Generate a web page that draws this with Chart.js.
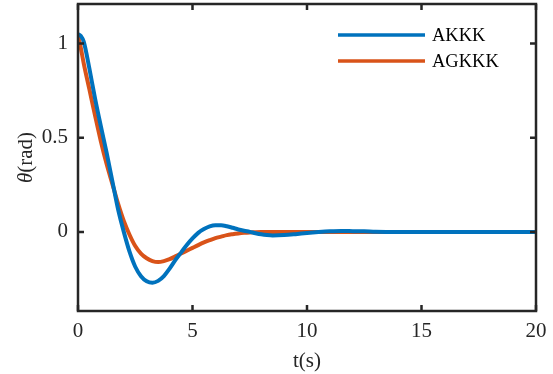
<!DOCTYPE html>
<html>
<head>
<meta charset="utf-8">
<script src="https://cdn.jsdelivr.net/npm/chart.js@4.4.1/dist/chart.umd.min.js"></script>
<style>
  html, body { margin: 0; padding: 0; background: #ffffff; }
  #wrap { width: 553px; height: 374px; position: relative; }
</style>
</head>
<body>
<div id="wrap"><canvas id="c"></canvas></div>
<script>
// Time samples (s)
const times = [0, 0.125, 0.25, 0.5, 0.75, 1.0, 1.25, 1.5, 1.75, 2.0, 2.25, 2.5, 2.75, 3.0, 3.25, 3.5, 3.75,
  4.0, 4.25, 4.5, 4.75, 5.0, 5.25, 5.5, 5.75, 6.0, 6.25, 6.5, 6.75, 7.0, 7.25, 7.5, 7.75,
  8.0, 8.25, 8.5, 9.0, 9.5, 10, 10.5, 11, 11.5, 12, 12.5, 13, 14, 15, 16, 17, 18, 19, 20];

// θ (rad) – AKKK
const akkk = [1.05, 1.04, 1.01, 0.865, 0.705, 0.56, 0.42, 0.27, 0.12, 0.0, -0.105, -0.185, -0.235, -0.262, -0.27, -0.26, -0.235,
  -0.195, -0.15, -0.11, -0.07, -0.035, -0.005, 0.015, 0.029, 0.035, 0.035, 0.03, 0.022, 0.013, 0.006, 0.0, -0.007,
  -0.013, -0.017, -0.019, -0.017, -0.012, -0.006, -0.001, 0.003, 0.005, 0.004, 0.003, 0.001, 0, 0, 0, 0, 0, 0, 0];

// θ (rad) – AGKKK
const agkkk = [1.05, 0.975, 0.895, 0.755, 0.615, 0.48, 0.36, 0.255, 0.15, 0.058, -0.015, -0.075, -0.115, -0.14, -0.155, -0.16, -0.155,
  -0.145, -0.13, -0.115, -0.10, -0.085, -0.07, -0.056, -0.044, -0.033, -0.025, -0.017, -0.012, -0.008, -0.005, -0.003, -0.002,
  -0.001, 0, 0, 0, 0, 0, 0, 0, 0, 0, 0, 0, 0, 0, 0, 0, 0, 0, 0];

const seriesNames = ['AKKK', 'AGKKK'];
const xTicks = [0, 5, 10, 15, 20];
const yTicks = [0, 0.5, 1];

const FONT = '"Liberation Serif", "Times New Roman", serif';
const INK = '#262626';
const colors = ['#0072BD', '#D95319'];

const toPts = (vals) => times.map((t, i) => ({ x: t, y: vals[i] }));

const boxPlugin = {
  id: 'box',
  afterDatasetsDraw(chart) {
    const { ctx, chartArea: a, scales: { x, y } } = chart;
    ctx.save();
    ctx.strokeStyle = INK;
    ctx.lineWidth = 2.5;
    ctx.strokeRect(a.left, a.top, a.right - a.left, a.bottom - a.top);
    const L = 6;
    x.ticks.forEach(tk => {
      const px = x.getPixelForValue(tk.value);
      ctx.beginPath();
      ctx.moveTo(px, a.bottom); ctx.lineTo(px, a.bottom - L);
      ctx.moveTo(px, a.top); ctx.lineTo(px, a.top + L);
      ctx.stroke();
    });
    y.ticks.forEach(tk => {
      const py = y.getPixelForValue(tk.value);
      ctx.beginPath();
      ctx.moveTo(a.left, py); ctx.lineTo(a.left + L, py);
      ctx.moveTo(a.right, py); ctx.lineTo(a.right - L, py);
      ctx.stroke();
    });
    // y-axis title with italic theta
    ctx.save();
    ctx.translate(26, (a.top + a.bottom) / 2);
    ctx.rotate(-Math.PI / 2);
    ctx.fillStyle = INK;
    ctx.textBaseline = 'middle';
    ctx.textAlign = 'left';
    const f1 = 'italic 21px ' + FONT, f2 = '21px ' + FONT;
    ctx.font = f1; const w1 = ctx.measureText('θ').width;
    ctx.font = f2; const w2 = ctx.measureText('(rad)').width;
    const start = -(w1 + w2) / 2;
    ctx.font = f1; ctx.fillText('θ', start, 0);
    ctx.font = f2; ctx.fillText('(rad)', start + w1, 0);
    ctx.restore();
    // legend
    chart.data.datasets.forEach((ds, i) => {
      const ly = a.top + 31 + i * 26;
      ctx.strokeStyle = ds.borderColor;
      ctx.lineWidth = 3.5;
      ctx.beginPath();
      ctx.moveTo(a.right - 198, ly); ctx.lineTo(a.right - 111, ly);
      ctx.stroke();
      ctx.fillStyle = '#000';
      ctx.font = '18.5px ' + FONT;
      ctx.textBaseline = 'middle';
      ctx.textAlign = 'left';
      ctx.fillText(ds.label, a.right - 104, ly + 1);
    });
    ctx.restore();
  }
};

new Chart(document.getElementById('c'), {
  type: 'line',
  data: {
    datasets: [
      { label: seriesNames[0], data: toPts(akkk), borderColor: colors[0], borderWidth: 4, pointRadius: 0, cubicInterpolationMode: 'monotone', fill: false },
      { label: seriesNames[1], data: toPts(agkkk), borderColor: colors[1], borderWidth: 4, pointRadius: 0, cubicInterpolationMode: 'monotone', fill: false }
    ]
  },
  options: {
    responsive: true,
    maintainAspectRatio: false,
    animation: false,
    layout: { padding: { left: 0, top: 4, right: 17, bottom: 0 } },
    plugins: { legend: { display: false }, tooltip: { enabled: false } },
    scales: {
      x: {
        type: 'linear', min: 0, max: 20,
        afterBuildTicks: (s) => { s.ticks = xTicks.map(v => ({ value: v })); },
        afterFit: (s) => { s.height = 63; s.paddingLeft = 0; s.paddingRight = 0; },
        grid: { display: false, drawTicks: false },
        border: { display: false },
        ticks: { padding: 8, color: INK, font: { family: FONT, size: 21 }, maxRotation: 0, callback: v => String(v) },
        title: { display: true, text: 't(s)', color: INK, font: { family: FONT, size: 21 }, padding: { top: 2, bottom: 0 } }
      },
      y: {
        type: 'linear', min: -0.42, max: 1.21,
        afterBuildTicks: (s) => { s.ticks = yTicks.map(v => ({ value: v })); },
        afterFit: (s) => { s.width = 78; s.paddingTop = 0; s.paddingBottom = 0; },
        grid: { display: false, drawTicks: false },
        border: { display: false },
        ticks: { padding: 10, color: INK, font: { family: FONT, size: 21 }, callback: v => String(v) },
        title: { display: false }
      }
    }
  },
  plugins: [boxPlugin]
});
</script>
</body>
</html>
